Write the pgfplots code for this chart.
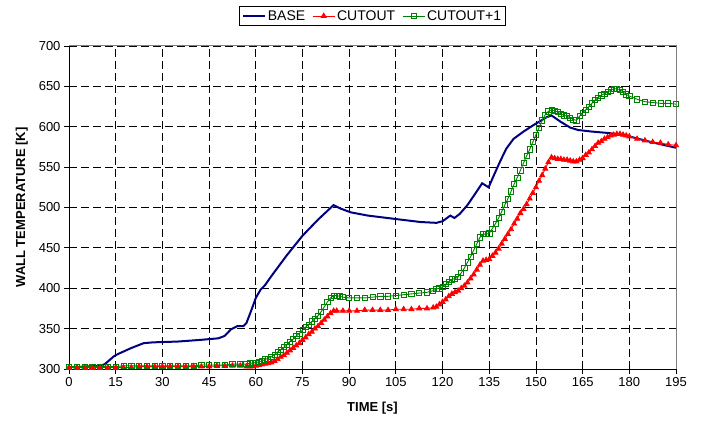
\documentclass[border=0pt]{standalone}
\usepackage{pgfplots}
\pgfplotsset{compat=1.18}
\usepackage{pgfplotstable}
\usepackage{fontspec}
\setmainfont{Liberation Sans}
\definecolor{basecol}{RGB}{0,0,128}
\definecolor{cutcol}{RGB}{255,0,0}
\definecolor{cut1col}{RGB}{0,128,0}

\pgfplotstableread{
t T
0 302
5 303
10 304
11.5 306
13 311
14.5 316
16 319
20 326
24 332
27 333
35 334
42 336
48 338
50 341
52 349
54 353
56 353
57 357
58.5 372
60 388
61.5 398
63 404
65 415
70 441
75 465
80 485
85 503
87 499
90.5 494
96 490
106.5 485
113 482
118 481
120 483
122.5 490
123.8 487
125.5 492
128 503
131 520
132.7 530
134.8 525
136.5 540
138.6 558
140.5 573
142.8 585
146 594
149.2 602
153.5 612
155 614
158 606
161 599
163.5 596
168 594
174 592
180 588
187 581
195 574
}\basedata

\pgfplotstableread{
t T
0 302
2.5 302
5 302
7.5 302
10 302
12.5 302
15 302
17.5 302
20 302
22.5 303
25 303
27.5 303
30 303
32.5 303
35 303
37.5 303
40 303
42.5 303
45 303
47.5 304
50 304
52.5 304
55 304
57 303
58 303
59 303
60 304
61 305
62 305.5
63 306.5
64 307
65 308
66 310
67 312
68 315
69 317
70 320
71 323
72 326
73 329
74 332
75 336
76 339
77 343
78 346
79 350
80 353
81 357
82 361
83 365
84 369
85 372
86 372
88 372
90 372
92.5 372
95 373
97.5 373
100 373
102.5 373
105 374
107.5 374
110 374
112.5 375
115 375
117 376
118 377
119 380
120 383
121 386
122 390
123 393
124 395
125 397
126 400
127 403
128 407
129 412
130 417
131 423
132 429
133 434
134 435
135 436
136 440
137 444
138 449
139 455
140 461
141 467
142 473
143 480
144 486
145 493
146 498
147 504
148 511
149 518
150 525
151 533
152 540
153 548
154 556
155 562
156 561
157 560
158 560
159 559
160 559
161 558
162 557
163 557
164 559
165 561
166 565
167 568
168 572
169 576
170 580
171 582
172 585
173 587
174 589
175 590
176 591
177 591
178 590
179 589
180 588
182.5 585
185 583
187.5 581
190 580
192.5 578
195 577
}\cutdata

\pgfplotstableread{
t T
0 303
2.5 303
5 303
7.5 303
10 303
12.5 303
15 303
17.5 304
20 304
22.5 304
25 304
27.5 304
30 304
32.5 304
35 304
37.5 304
40 304
42.5 305
45 305
47.5 305
50 305
52.5 306
55 306
57 306
58 307
59 307.5
60 308
61 309
62 310
63 312
64 313
65 315
66 318
67 321
68 324
69 327
70 330
71 334
72 337
73 341
74 344
75 348
76 352
77 355
78 359
79 362
80 366
81 371
82 377
83 383
84 388
85 391
86 391
87 390
88 389
90 388
92.5 388
95 388
97.5 389
100 390
102.5 390
105 391
107.5 392
110 393
112.5 394
115 395
117 397
118 399
119 400
120 402
121 405
122 408
123 411
124 412
125 414
126 419
127 425
128 432
129 439
130 447
131 455
132 463
133 467
134 467
135 468
136 474
137 480
138 487
139 495
140 503
141 511
142 520
143 529
144 537
145 546
146 555
147 564
148 572
149 581
150 590
151 599
152 608
153 615
154 619
155 621
156 620
157 618
158 616
159 614
160 613
161 611
162 609
163 608
164 613
165 617
166 621
167 625
168 629
169 633
170 636
171 639
172 641
173 643
174 645
175 647
176 647
177 646
178 643
179 640
180 638
182.5 634
185 631
187.5 630
190 629
192.5 629
195 628
}\cutonedata

\begin{document}
\begin{tikzpicture}
\begin{axis}[
  scale only axis,
  width=607pt, height=323pt,
  xmin=0, xmax=195, ymin=300, ymax=700,
  xtick={0,15,...,195},
  ytick={300,350,...,700},
  axis x line*=bottom, axis y line*=left,
  axis line style={-, black, line width=1pt},
  tick align=outside,
  major tick length=5pt,
  tick style={black, line width=0.8pt},
  grid=major,
  major grid style={black, line width=0.8pt, dash pattern=on 8pt off 4pt},
  /pgf/number format/assume math mode=true,
  ticklabel style={font=\fontsize{13}{15}\selectfont},
  xlabel={TIME [s]},
  ylabel={WALL TEMPERATURE [K]},
  label style={font=\fontsize{13}{15}\selectfont\bfseries},
  xlabel style={at={(axis description cs:0.5,-0.121)}, anchor=center},
  ylabel style={at={(axis description cs:-0.078,0.5)}, anchor=center},
  clip=false,
  legend columns=3,
  legend style={at={(axis description cs:0.5,1.093)}, anchor=center,
    draw=black, line width=0.8pt, font=\fontsize{14}{16}\selectfont,
    inner sep=2pt,
    /tikz/every even column/.append style={column sep=5pt}},
  legend image code/.code={\draw[mark repeat=2,mark phase=2,#1] plot coordinates {(0pt,0pt) (11pt,0pt) (22pt,0pt)};},
]
\draw[gray, line width=1pt] (rel axis cs:0,1) -- (rel axis cs:1,1) -- (rel axis cs:1,0);
\addplot[basecol, line width=2pt, no marks] table[x=t,y=T] {\basedata};
\addlegendentry{BASE}
\addplot[cutcol, line width=0.9pt, mark=triangle*, mark size=2.8pt, mark options={solid, fill=cutcol}] table[x=t,y=T] {\cutdata};
\addlegendentry{CUTOUT}
\addplot[cut1col, line width=0.9pt, mark=square, mark size=2.6pt, mark options={solid, line width=0.7pt}] table[x=t,y=T] {\cutonedata};
\addlegendentry{CUTOUT+1}
\coordinate (bbl) at (axis description cs:-0.1137,-0.1641);
\coordinate (btr) at (axis description cs:1.0494,1.1424);
\end{axis}
\pgfresetboundingbox
\path[use as bounding box] (bbl) rectangle (btr);
\end{tikzpicture}
\end{document}
